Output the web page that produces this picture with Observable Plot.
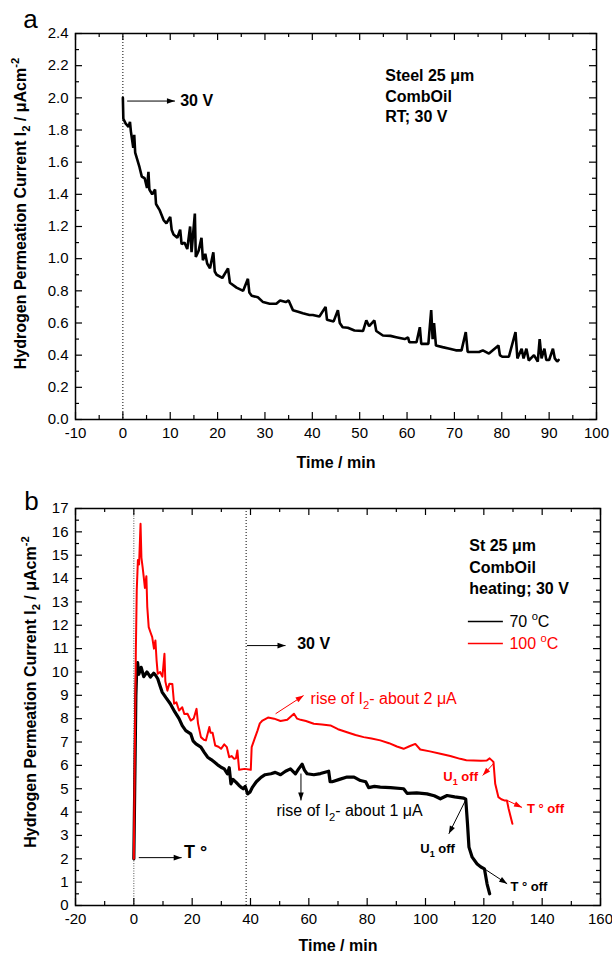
<!DOCTYPE html>
<html><head><meta charset="utf-8">
<script src="https://cdn.jsdelivr.net/npm/d3@7"></script>
<script src="https://cdn.jsdelivr.net/npm/@observablehq/plot@0.6"></script>
<style>
body{margin:0;background:#fff;}
#chart svg{display:block;}
</style></head><body><div id="chart"></div>
<script>
// ---------- Panel a data (Steel 25 µm, CombOil, RT, 30 V) ----------
const timeA = [0,0.1,0.6,1.2,1.5,1.7,2.2,2.4,2.6,2.9,3.5,4.0,4.6,5.1,5.4,5.6,6.2,6.8,7.0,7.8,8.6,9.2,10.0,10.3,10.7,11.5,12.1,12.4,13.0,13.6,14.2,14.5,15.2,15.4,16.0,16.6,16.9,17.4,17.8,18.4,19.1,19.4,19.8,21.0,22.2,22.6,24.0,25.4,26.4,26.7,27.2,28.5,29.6,31.0,32.4,33.2,34.4,35.0,35.9,37.0,38.0,39.4,40.1,41.5,42.8,43.1,44.5,45.4,45.8,46.4,47.5,48.9,50.7,51.4,52.0,53.1,53.5,54.9,56.5,57.7,59.5,60.2,60.5,62.0,62.7,63.0,64.5,65.1,65.4,65.7,66.1,67.5,69.0,70.3,71.5,72.4,72.8,73.1,75.2,76.0,77.3,79.3,79.6,80.1,81.5,82.9,83.3,84.2,84.6,85.2,85.7,86.8,87.6,88.0,88.4,89.0,89.4,90.0,90.8,91.2,91.7,92.0];
const currentA = [2.00,1.87,1.84,1.82,1.85,1.79,1.69,1.77,1.66,1.63,1.57,1.51,1.50,1.44,1.54,1.43,1.40,1.43,1.34,1.30,1.24,1.22,1.26,1.18,1.15,1.13,1.18,1.09,1.10,1.06,1.20,1.04,1.28,1.01,1.05,1.13,0.99,1.03,0.97,0.94,1.04,0.92,0.90,0.88,0.94,0.85,0.82,0.80,0.875,0.79,0.77,0.76,0.73,0.72,0.72,0.74,0.73,0.74,0.68,0.67,0.66,0.65,0.65,0.64,0.70,0.62,0.61,0.68,0.60,0.574,0.57,0.553,0.55,0.616,0.58,0.616,0.55,0.522,0.52,0.512,0.50,0.51,0.48,0.48,0.574,0.47,0.47,0.68,0.50,0.60,0.46,0.45,0.44,0.43,0.43,0.543,0.42,0.42,0.42,0.43,0.41,0.46,0.40,0.39,0.39,0.543,0.38,0.44,0.38,0.44,0.367,0.40,0.36,0.50,0.38,0.44,0.37,0.37,0.44,0.38,0.36,0.37];

// ---------- Panel b data (St 25 µm, CombOil, heating, 30 V) ----------
const time70 = [0,0.3,0.7,1.0,1.3,1.7,2.5,3.4,4.5,5.7,6.8,7.5,8.2,9.0,9.7,11.0,12.5,14.0,15.5,16.6,17.8,19.5,20.3,21.3,23.0,24.2,25.3,26.5,27.6,29.0,29.9,31.0,32.1,32.7,33.3,34.0,35.0,36.0,36.7,37.5,38.2,39.0,39.8,40.7,42.0,43.6,45.0,47.0,48.5,50.3,52.0,53.7,55.4,56.5,57.7,58.5,59.4,61.7,64.0,66.8,67.3,68.0,70.5,73.1,75.5,77.7,79.5,80.5,82.5,84.5,88.0,92.5,93.7,97.0,100.5,103.0,105.1,107.4,110.0,113.1,113.8,114.4,114.9,116.0,117.7,119.0,120.2,121.1,122.0];
const current70 = [2.0,5.0,9.0,10.2,10.4,9.9,10.2,9.8,10.0,9.78,9.95,9.85,9.71,9.4,9.14,8.9,8.64,8.3,8.0,7.7,7.49,7.35,7.05,6.92,6.78,6.55,6.35,6.25,6.14,6.0,5.92,5.85,5.64,5.9,5.21,5.4,5.28,5.15,5.07,5.0,5.1,4.78,4.85,5.07,5.3,5.49,5.6,5.64,5.7,5.6,5.75,5.85,5.64,5.85,6.05,5.8,5.64,5.6,5.65,5.75,5.3,5.3,5.4,5.5,5.5,5.35,5.3,5.05,5.1,5.07,5.05,5.0,4.8,4.82,4.78,4.7,4.57,4.71,4.65,4.6,4.55,3.5,2.5,2.07,1.78,1.65,1.57,0.93,0.5];
const time100 = [0,0.3,0.7,1.0,1.4,1.8,2.3,2.6,3.0,3.4,3.8,4.3,4.6,5.1,5.7,6.3,6.9,7.4,7.8,8.2,9.0,9.8,10.5,10.8,11.5,12.2,13.2,13.8,14.6,15.5,16.6,17.3,18.4,19.5,20.5,21.5,22.0,23.0,24.0,24.7,25.9,26.3,27.0,27.9,29.0,29.9,31.0,31.9,32.7,33.5,34.4,35.0,35.5,36.1,38.0,40.1,40.4,41.3,42.4,43.2,44.1,46.0,48.1,50.3,52.6,54.9,56.0,57.2,59.0,61.7,64.5,67.4,70.0,73.1,76.0,78.8,81.5,84.5,87.5,90.2,92.5,94.5,96.5,98.2,101.5,105.1,108.5,111.9,114.0,116.5,119.0,121.0,122.0,123.3,123.9,125.0,126.0,127.0,127.9,128.5,129.8];
const current100 = [2.0,6.0,11.0,13.5,14.8,14.6,16.35,14.9,14.5,14.06,13.6,14.1,12.8,11.92,11.7,11.49,11.0,11.35,10.5,9.92,10.0,9.8,10.78,9.6,9.2,9.5,9.49,8.64,8.7,8.35,8.49,8.2,8.21,7.92,8.0,8.42,7.8,7.21,7.1,7.07,7.64,7.4,7.4,6.85,6.8,6.71,6.9,6.78,6.35,6.4,6.28,6.3,6.64,5.81,5.85,5.81,6.78,7.1,7.49,7.8,7.92,8.05,8.0,7.9,7.95,8.21,8.0,7.95,7.9,7.78,7.75,7.71,7.55,7.42,7.3,7.21,7.15,7.07,6.95,6.81,6.71,6.82,6.92,6.68,6.6,6.5,6.4,6.28,6.22,6.21,6.2,6.21,6.3,6.15,5.21,4.64,4.55,4.5,4.5,4.14,3.5];

// ---------- ticks ----------
const xMajorA = [-10,0,10,20,30,40,50,60,70,80,90,100];
const xMinorA = [-5,5,15,25,35,45,55,65,75,85,95];
const yMajorA = [0,0.2,0.4,0.6,0.8,1.0,1.2,1.4,1.6,1.8,2.0,2.2,2.4];
const yMinorA = [0.1,0.3,0.5,0.7,0.9,1.1,1.3,1.5,1.7,1.9,2.1,2.3];
const xMajorB = [-20,0,20,40,60,80,100,120,140,160];
const xMinorB = [-10,10,30,50,70,90,110,130,150];
const yMajorB = [0,1,2,3,4,5,6,7,8,9,10,11,12,13,14,15,16,17];
const yMinorB = [0.5,1.5,2.5,3.5,4.5,5.5,6.5,7.5,8.5,9.5,10.5,11.5,12.5,13.5,14.5,15.5,16.5];

// ---------- annotations ----------
const switchA = [0];
const eventsB = [0, 38.5];
const arrowA = [{x1: 0.9, y1: 1.98, x2: 11.0, y2: 1.98}];
const noteA = [{x: 12.1, y: 1.98, text: "30 V"}];
const infoA = [
  {x: 55.4, y: 2.139, text: "Steel 25 μm"},
  {x: 55.4, y: 2.009, text: "CombOil"},
  {x: 55.4, y: 1.88, text: "RT; 30 V"}
];
const infoB = [
  {x: 115, y: 15.42, text: "St 25 μm"},
  {x: 115, y: 14.46, text: "CombOil"},
  {x: 115, y: 13.56, text: "heating; 30 V"},
  {x: 56.0, y: 11.2, text: "30 V"}
];
const tempNoteB = [{x: 17.2, y: 2.3, text: "T °"}];
const legendB = [
  {x1: 114.7, x2: 126.7, y: 12.16, label: "70 ^{o}C", color: "black"},
  {x1: 114.7, x2: 126.7, y: 11.22, label: "100 ^{o}C", color: "#ff0000"}
];
const riseB = [
  {x: 60.6, y: 8.86, text: "rise of I_{2}- about 2 μA", color: "#ff0000"},
  {x: 48.9, y: 4.05, text: "rise of I_{2}- about 1 μA", color: "black"}
];
const offB = [
  {x: 106.1, y: 5.5, text: "U_{1} off", color: "#ff0000"},
  {x: 134.8, y: 4.15, text: "T ° off", color: "#ff0000"},
  {x: 98.2, y: 2.43, text: "U_{1} off", color: "black"},
  {x: 129.1, y: 0.78, text: "T ° off", color: "black"}
];
const arrowsB = [
  {x1: 1.7, y1: 2.05, x2: 16.4, y2: 2.05, color: "black"},
  {x1: 38.8, y1: 11.13, x2: 52.0, y2: 11.13, color: "black"},
  {x1: 48.6, y1: 8.21, x2: 58.2, y2: 8.99, color: "#ff0000"},
  {x1: 57.3, y1: 5.65, x2: 57.3, y2: 4.5, color: "black"},
  {x1: 123.5, y1: 6.1, x2: 119.6, y2: 5.57, color: "#ff0000"},
  {x1: 128.0, y1: 4.5, x2: 133.1, y2: 4.2, color: "#ff0000"},
  {x1: 113.7, y1: 4.5, x2: 108.0, y2: 3.07, color: "black"},
  {x1: 120.2, y1: 1.57, x2: 128.0, y2: 0.93, color: "black"}
];
const yTitle = "Hydrogen Permeation Current I_{2} / μAcm^{-2}";
const xTitle = "Time / min";

const FONT = "'Liberation Sans', Arial, Helvetica, sans-serif";
const W = 612;

function inwardTicks(xs, ys, innerW, innerH, len) {
  return [
    Plot.tickX(xs, {x: d => d, insetTop: innerH - len, stroke: "black", strokeWidth: 1.2}),
    Plot.tickX(xs, {x: d => d, insetBottom: innerH - len, stroke: "black", strokeWidth: 1.2}),
    Plot.tickY(ys, {y: d => d, insetRight: innerW - len, stroke: "black", strokeWidth: 1.2}),
    Plot.tickY(ys, {y: d => d, insetLeft: innerW - len, stroke: "black", strokeWidth: 1.2})
  ];
}

function richify(svg) {
  d3.select(svg).selectAll("text").each(function() {
    const s = this.textContent;
    if (!/[_^]\{/.test(s)) return;
    const fs = parseFloat(getComputedStyle(this).fontSize) || 16;
    const el = d3.select(this);
    el.text(null);
    const re = /([_^])\{([^}]*)\}/g;
    let last = 0, m;
    const parts = [];
    while ((m = re.exec(s))) {
      if (m.index > last) parts.push({t: s.slice(last, m.index), k: ""});
      parts.push({t: m[2], k: m[1]});
      last = re.lastIndex;
    }
    if (last < s.length) parts.push({t: s.slice(last), k: ""});
    let shift = 0;
    for (const p of parts) {
      const target = p.k === "_" ? fs * 0.3 : p.k === "^" ? -fs * 0.42 : 0;
      const ts = el.append("tspan").attr("dy", (target - shift).toFixed(2)).text(p.t);
      if (p.k) ts.attr("font-size", (fs * 0.7).toFixed(2));
      shift = target;
    }
  });
}

function fixMarkers(svg) {
  d3.select(svg).selectAll("marker").each(function() {
    const m = d3.select(this);
    const c = m.attr("stroke") || "black";
    m.attr("viewBox", "-10 -5 10 10").attr("markerWidth", 10).attr("markerHeight", 10)
     .attr("fill", c).attr("stroke", "none").style("overflow", "visible");
    m.selectAll("path").attr("d", "M-8,-2.8L0,0L-8,2.8Z");
  });
}

const tableA = timeA.map((t, i) => ({t, v: currentA[i]}));
const table70 = time70.map((t, i) => ({t, v: current70[i]}));
const table100 = time100.map((t, i) => ({t, v: current100[i]}));

// ---------- Panel a ----------
const mA = {top: 33, bottom: 56, left: 75, right: 16};
const HA = 475;
const innerWA = W - mA.left - mA.right, innerHA = HA - mA.top - mA.bottom;
const plotA = Plot.plot({
  width: W, height: HA,
  marginTop: mA.top, marginBottom: mA.bottom, marginLeft: mA.left, marginRight: mA.right,
  style: {fontFamily: FONT, fontSize: "15px", background: "white", overflow: "visible"},
  x: {domain: [-10, 100]},
  y: {domain: [0, 2.4]},
  marks: [
    Plot.ruleX(switchA, {x: d => d, stroke: "black", strokeWidth: 1, strokeDasharray: "1,2"}),
    Plot.line(tableA, {x: "t", y: "v", stroke: "black", strokeWidth: 2.6, strokeLinejoin: "miter"}),
    Plot.link(arrowA, {x1: "x1", y1: "y1", x2: "x2", y2: "y2", stroke: "black", strokeWidth: 1, markerEnd: "arrow"}),
    Plot.text(noteA, {x: "x", y: "y", text: "text", textAnchor: "start", fontWeight: "bold", fontSize: 16, fill: "black"}),
    Plot.text(infoA, {x: "x", y: "y", text: "text", textAnchor: "start", fontWeight: "bold", fontSize: 16, fill: "black"}),
    ...inwardTicks(xMajorA, yMajorA, innerWA, innerHA, 7),
    ...inwardTicks(xMinorA, yMinorA, innerWA, innerHA, 4),
    Plot.frame({stroke: "black", strokeWidth: 1.5}),
    Plot.axisX({ticks: xMajorA, tickSize: 0, tickPadding: 8, tickFormat: d => String(d), label: null, fontSize: 15}),
    Plot.axisY({ticks: yMajorA, tickSize: 0, tickPadding: 7, tickFormat: d3.format(".1f"), label: null, fontSize: 15}),
    Plot.text([xTitle], {text: d => d, frameAnchor: "bottom", lineAnchor: "middle", textAnchor: "middle", dy: 43, fontWeight: "bold", fontSize: 16, fill: "black"}),
    Plot.text([yTitle], {text: d => d, frameAnchor: "left", textAnchor: "middle", lineAnchor: "middle", rotate: -90, dx: -55, dy: -13, fontWeight: "bold", fontSize: 16, fill: "black"}),
    Plot.text(["a"], {text: d => d, frameAnchor: "top-left", textAnchor: "middle", lineAnchor: "middle", dx: -45, dy: -14, fontSize: 26, fill: "black"})
  ]
});

// ---------- Panel b ----------
const mB = {top: 33, bottom: 54, left: 75, right: 12};
const HB = 484;
const innerWB = W - mB.left - mB.right, innerHB = HB - mB.top - mB.bottom;
const legend70 = legendB.filter(d => d.color === "black");
const legend100 = legendB.filter(d => d.color !== "black");
const plotB = Plot.plot({
  width: W, height: HB,
  marginTop: mB.top, marginBottom: mB.bottom, marginLeft: mB.left, marginRight: mB.right,
  style: {fontFamily: FONT, fontSize: "15px", background: "white", overflow: "visible"},
  x: {domain: [-20, 160]},
  y: {domain: [0, 17]},
  marks: [
    Plot.ruleX(eventsB.slice(0, 1), {x: d => d, stroke: "#555", strokeWidth: 1, strokeDasharray: "1,1.5"}),
    Plot.ruleX(eventsB.slice(1), {x: d => d, stroke: "black", strokeWidth: 1, strokeDasharray: "1,2"}),
    Plot.line(table70, {x: "t", y: "v", stroke: "black", strokeWidth: 3.2}),
    Plot.line(table100, {x: "t", y: "v", stroke: "#ff0000", strokeWidth: 2}),
    Plot.link(arrowsB.filter(d => d.color === "black"), {x1: "x1", y1: "y1", x2: "x2", y2: "y2", stroke: "black", strokeWidth: 1, markerEnd: "arrow"}),
    Plot.link(arrowsB.filter(d => d.color !== "black"), {x1: "x1", y1: "y1", x2: "x2", y2: "y2", stroke: "#ff0000", strokeWidth: 1, markerEnd: "arrow"}),
    Plot.text(infoB, {x: "x", y: "y", text: "text", textAnchor: "start", fontWeight: "bold", fontSize: 16, fill: "black"}),
    Plot.text(tempNoteB, {x: "x", y: "y", text: "text", textAnchor: "start", fontWeight: "bold", fontSize: 18, fill: "black"}),
    Plot.ruleY(legend70, {y: "y", x1: "x1", x2: "x2", stroke: "black", strokeWidth: 1.5}),
    Plot.ruleY(legend100, {y: "y", x1: "x1", x2: "x2", stroke: "#ff0000", strokeWidth: 1.5}),
    Plot.text(legend70, {x: "x2", y: "y", text: "label", dx: 6, textAnchor: "start", fontSize: 16, fill: "black"}),
    Plot.text(legend100, {x: "x2", y: "y", text: "label", dx: 6, textAnchor: "start", fontSize: 16, fill: "#ff0000"}),
    Plot.text(riseB.filter(d => d.color === "black"), {x: "x", y: "y", text: "text", textAnchor: "start", fontSize: 16, fill: "black"}),
    Plot.text(riseB.filter(d => d.color !== "black"), {x: "x", y: "y", text: "text", textAnchor: "start", fontSize: 16, fill: "#ff0000"}),
    Plot.text(offB.filter(d => d.color === "black"), {x: "x", y: "y", text: "text", textAnchor: "start", fontWeight: "bold", fontSize: 13, fill: "black"}),
    Plot.text(offB.filter(d => d.color !== "black"), {x: "x", y: "y", text: "text", textAnchor: "start", fontWeight: "bold", fontSize: 13, fill: "#ff0000"}),
    ...inwardTicks(xMajorB, yMajorB, innerWB, innerHB, 7),
    ...inwardTicks(xMinorB, yMinorB, innerWB, innerHB, 4),
    Plot.frame({stroke: "black", strokeWidth: 1.5}),
    Plot.axisX({ticks: xMajorB, tickSize: 0, tickPadding: 8, tickFormat: d => String(d), label: null, fontSize: 15}),
    Plot.axisY({ticks: yMajorB, tickSize: 0, tickPadding: 7, tickFormat: d => String(d), label: null, fontSize: 15}),
    Plot.text([xTitle], {text: d => d, frameAnchor: "bottom", lineAnchor: "middle", textAnchor: "middle", dy: 40, fontWeight: "bold", fontSize: 16, fill: "black"}),
    Plot.text([yTitle], {text: d => d, frameAnchor: "left", textAnchor: "middle", lineAnchor: "middle", rotate: -90, dx: -45, dy: -15, fontWeight: "bold", fontSize: 16, fill: "black"}),
    Plot.text(["b"], {text: d => d, frameAnchor: "top-left", textAnchor: "middle", lineAnchor: "middle", dx: -44, dy: -7, fontSize: 26, fill: "black"})
  ]
});

const root = document.getElementById("chart");
root.appendChild(plotA);
root.appendChild(plotB);
for (const s of [plotA, plotB]) { richify(s); fixMarkers(s); }
</script></body></html>
